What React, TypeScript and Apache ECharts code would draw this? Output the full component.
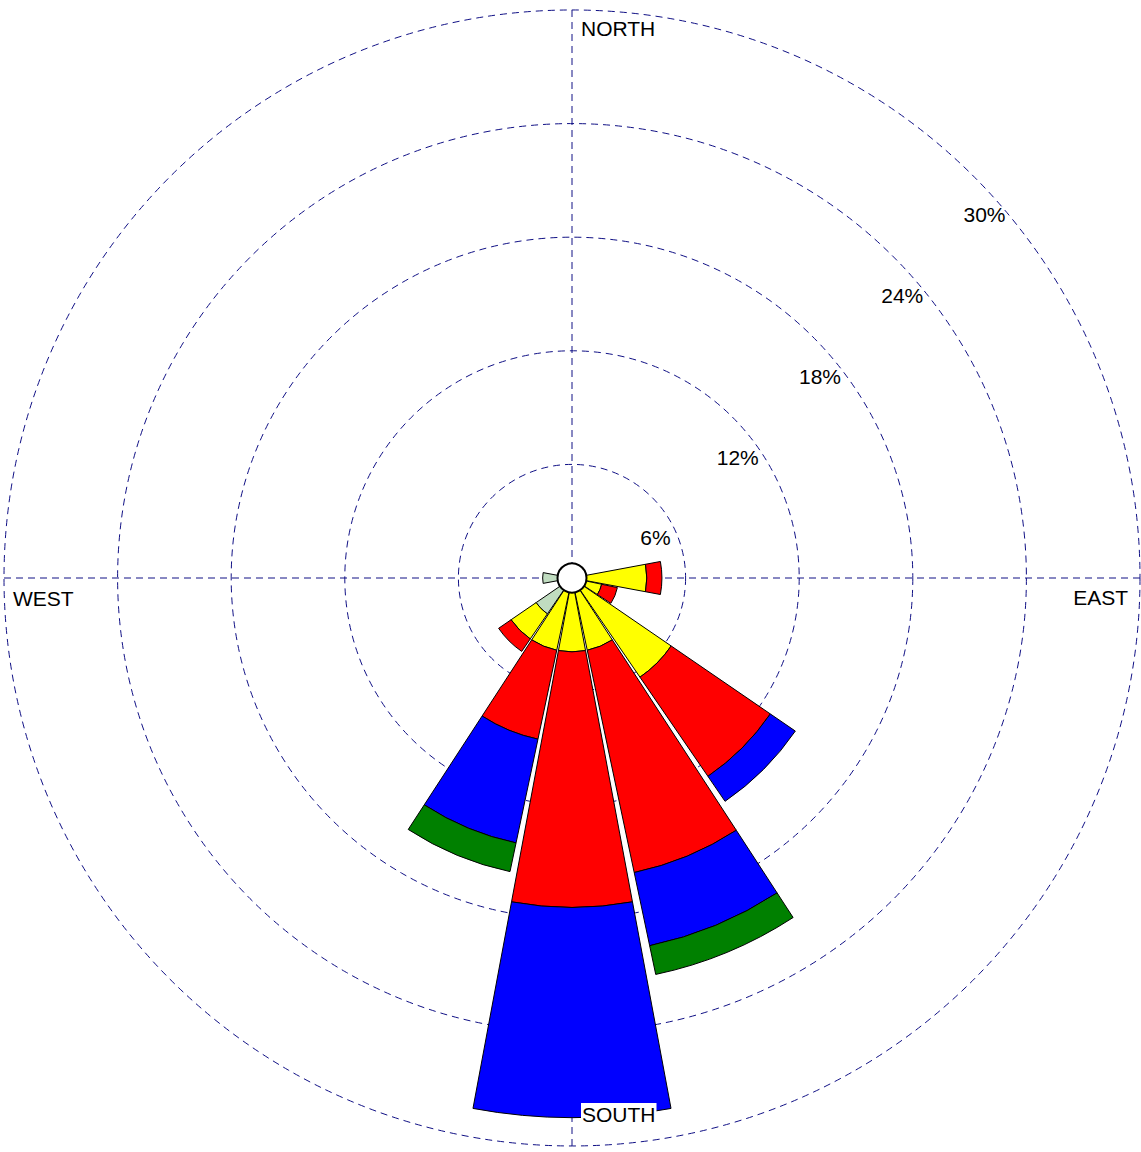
import React, { useEffect, useRef } from 'react';
import * as echarts from 'echarts';

// 16 compass directions (clockwise from north)
const directions = ['N', 'NNE', 'NE', 'ENE', 'E', 'ESE', 'SE', 'SSE', 'S', 'SSW', 'SW', 'WSW', 'W', 'WNW', 'NW', 'NNW'];

// Frequency (%) per speed class, stacked outward
const class1 = [null, null, null, null, 0.5, 0.5, 0.5, 0.5, 0.5, 0.5, 2.3, null, 1.55, null, null, null];
const class2 = [null, null, null, null, 3.45, 1.1, 5.85, 3.4, 3.4, 3.4, 1.6, null, null, null, null, null];
const class3 = [null, null, null, null, 0.8, 0.85, 6.35, 12.0, 13.5, 4.8, 0.8, null, null, null, null, null];
const class4 = [null, null, null, null, null, null, 1.6, 3.95, 11.1, 5.6, null, null, null, null, null, null];
const class5 = [null, null, null, null, null, null, null, 1.55, null, 1.55, null, null, null, null, null, null];

const classColors = ['#C0DCC0', '#FFFF00', '#FF0000', '#0000FF', '#008000'];
const classData = [class1, class2, class3, class4, class5];

// radial ticks
const radiusTicks = [6, 12, 18, 24, 30];
const radiusMax = 30;

// compass labels
const compassLabels = ['NORTH', 'EAST', 'SOUTH', 'WEST'];
const compassAngles = [0, 90, 180, 270];

const FONT = 'Liberation Sans, Arial, sans-serif';
const GRID = '#101085';

export default function App() {
  const ref = useRef<HTMLDivElement>(null);
  useEffect(() => {
    const chart = echarts.init(ref.current!, null, { renderer: 'svg' });
    const center = [572, 578];
    const radius = 568;

    const compassStyles: any[] = [
      { align: 'left', offset: [9, 18] },
      { align: 'right', offset: [-12, 19] },
      { align: 'left', offset: [9, -32], backgroundColor: '#ffffff', padding: [1, 1, 0, 1] },
      { align: 'left', offset: [9, 20] },
    ];

    const option: any = {
      animation: false,
      backgroundColor: '#ffffff',
      polar: [
        { center, radius },
        { center, radius },
      ],
      angleAxis: [
        {
          polarIndex: 0,
          type: 'value',
          min: 0,
          max: 360,
          interval: 90,
          startAngle: 90,
          clockwise: true,
          axisLine: { show: false },
          axisTick: { show: false },
          axisLabel: { show: false },
          splitLine: { show: true, lineStyle: { color: GRID, width: 1, type: [7, 5] } },
        },
        {
          polarIndex: 1,
          type: 'category',
          data: directions,
          startAngle: 90 + 360 / directions.length / 2,
          clockwise: true,
          boundaryGap: true,
          axisLine: { show: false },
          axisTick: { show: false },
          axisLabel: { show: false },
          splitLine: { show: false },
        },
      ],
      radiusAxis: [
        {
          polarIndex: 0,
          type: 'value',
          min: 0,
          max: radiusMax,
          interval: 6,
          axisLine: { show: false },
          axisTick: { show: false },
          axisLabel: { show: false },
          splitLine: { show: true, lineStyle: { color: GRID, width: 1, type: [7, 5] } },
        },
        {
          polarIndex: 1,
          type: 'value',
          min: 0,
          max: radiusMax,
          axisLine: { show: false },
          axisTick: { show: false },
          axisLabel: { show: false },
          splitLine: { show: false },
        },
      ],
      series: [
        ...classData.map((d, i) => ({
          type: 'bar',
          coordinateSystem: 'polar',
          polarIndex: 1,
          stack: 'wind',
          name: 'class' + (i + 1),
          data: d,
          barCategoryGap: '6%',
          itemStyle: { color: classColors[i], borderColor: '#000000', borderWidth: 1, opacity: 1 },
          z: 3,
        })),
        {
          type: 'scatter',
          coordinateSystem: 'polar',
          polarIndex: 0,
          z: 10,
          symbolSize: 29,
          itemStyle: { color: '#ffffff', borderColor: '#000000', borderWidth: 2, opacity: 1 },
          data: [[0, 0]],
        },
        {
          type: 'scatter',
          coordinateSystem: 'polar',
          polarIndex: 0,
          z: 11,
          symbolSize: 1,
          itemStyle: { color: 'rgba(0,0,0,0)', opacity: 1 },
          label: {
            show: true,
            position: 'inside',
            align: 'center',
            verticalAlign: 'middle',
            color: '#000000',
            fontSize: 21,
            fontFamily: FONT,
            formatter: (p: any) => p.value[0] + '%',
          },
          data: radiusTicks.map((t) => ({
            value: [t, 45],
            label: { offset: [3.2 + (t - 6) * 0.32, 40.3 - (t - 6) * 0.07] },
          })),
        },
        {
          type: 'scatter',
          coordinateSystem: 'polar',
          polarIndex: 0,
          z: 12,
          symbolSize: 1,
          itemStyle: { color: 'rgba(0,0,0,0)', opacity: 1 },
          label: {
            show: true,
            position: 'inside',
            verticalAlign: 'middle',
            color: '#000000',
            fontSize: 21,
            fontFamily: FONT,
            formatter: (p: any) => p.name,
          },
          data: compassLabels.map((name, i) => ({
            name,
            value: [radiusMax, compassAngles[i]],
            label: compassStyles[i],
          })),
        },
      ],
    };

    chart.setOption(option);
    return () => chart.dispose();
  }, []);
  return <div ref={ref} style={{ position: 'absolute', left: 0, top: 0, width: 1141, height: 1152 }} />;
}
